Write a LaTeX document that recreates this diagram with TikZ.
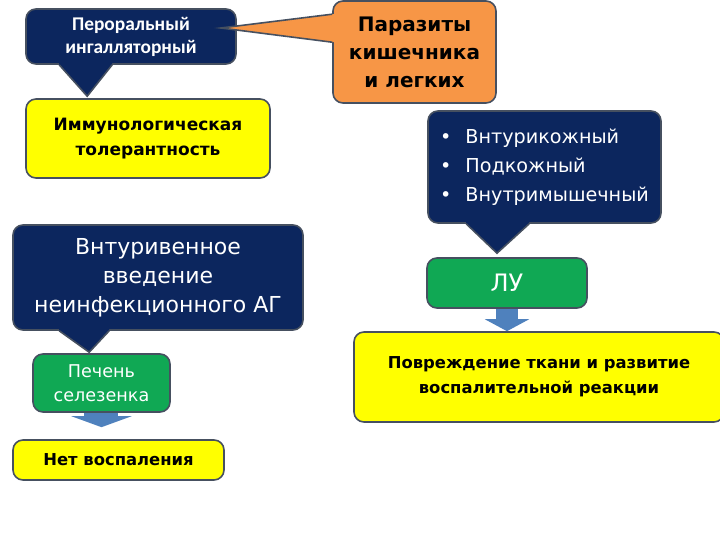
\documentclass[tikz,border=0pt]{standalone}
\usepackage{fontspec}
\setmainfont{DejaVu Sans}
\newfontfamily\calibrifont{Carlito}
\usepackage{xcolor}
\usepackage{tikz}
\usetikzlibrary{arrows.meta,calc}

\definecolor{navy}{RGB}{12,38,94}
\definecolor{rimgray}{RGB}{70,80,96}
\definecolor{boxyellow}{RGB}{255,255,0}
\definecolor{boxgreen}{RGB}{16,168,84}
\definecolor{boxorange}{RGB}{247,150,70}
\definecolor{arrowblue}{RGB}{79,129,189}

\begin{document}
\begin{tikzpicture}[x=0.5pt, y=-0.5pt,
    box/.style={rectangle, rounded corners=5pt, draw=rimgray, line width=0.8pt, align=center, inner sep=0pt},
    navybox/.style={box, fill=navy, text=white},
    yellowbox/.style={box, fill=boxyellow, text=black},
    greenbox/.style={box, fill=boxgreen, text=white},
    orangebox/.style={box, fill=boxorange, text=black},
    rim/.style={draw=rimgray, line width=0.8pt},
    bluearrow/.style={draw=arrowblue, -{Triangle[width=22pt,length=6pt]}}
]
\useasboundingbox (0,0) rectangle (720,540);

% Left column
\node[navybox, minimum width=105pt, minimum height=27.5pt, font=\calibrifont\bfseries\fontsize{9.7}{11.5}\selectfont] (oral) at (131,36.5) {Пероральный\\ингалляторный};
\node[yellowbox, minimum width=122pt, minimum height=39.5pt, font=\bfseries\fontsize{8.5}{12.5}\selectfont] (immun) at (148,138.5) {Иммунологическая\\толерантность};
\node[navybox, minimum width=145pt, minimum height=52.5pt, font=\fontsize{11}{14.5}\selectfont] (iv) at (158,277.5) {Внтуривенное\\введение\\неинфекционного АГ};
\node[greenbox, minimum width=68.5pt, minimum height=29pt, font=\fontsize{8.8}{12}\selectfont] (liver) at (101.5,383) {Печень\\селезенка};
\node[yellowbox, minimum width=105.5pt, minimum height=20pt, font=\bfseries\fontsize{8.2}{11}\selectfont] (noinfl) at (118.5,460) {Нет воспаления};

% Right column
\node[orangebox, minimum width=81.5pt, minimum height=51pt, font=\bfseries\fontsize{10}{14}\selectfont] (parasites) at (414.5,52) {Паразиты\\кишечника\\и легких};
\node[navybox, minimum width=116.5pt, minimum height=56pt, align=left, font=\fontsize{9.6}{14.5}\selectfont] (routes) at (544.5,167) {•\hspace{7pt}Внтурикожный\\•\hspace{7pt}Подкожный\\•\hspace{7pt}Внутримышечный};
\node[greenbox, minimum width=80pt, minimum height=25pt, font=\fontsize{12}{14}\selectfont] (lu) at (507,283) {ЛУ};
\node[yellowbox, minimum width=185pt, minimum height=45pt, font=\bfseries\fontsize{8.2}{12.5}\selectfont] (damage) at (539,377) {Повреждение ткани и развитие\\воспалительной реакции};

% Callout pointers
\fill[navy] ($(oral.south west)+(34,-4)$) -- ($(oral.south west)+(34,0)$) -- ($(immun.north west)+(62,-2)$) -- ($(oral.south west)+(87,0)$) -- ($(oral.south west)+(87,-4)$) -- cycle;
\draw[rim] ($(oral.south west)+(34,0)$) -- ($(immun.north west)+(62,-2)$) -- ($(oral.south west)+(87,0)$);
\fill[navy] ($(iv.south west)+(47,-4)$) -- ($(iv.south west)+(47,0)$) -- ($(liver.north west)+(57,-1)$) -- ($(iv.south west)+(97,0)$) -- ($(iv.south west)+(97,-4)$) -- cycle;
\draw[rim] ($(iv.south west)+(47,0)$) -- ($(liver.north west)+(57,-1)$) -- ($(iv.south west)+(97,0)$);
\fill[navy] ($(routes.south west)+(39,-4)$) -- ($(routes.south west)+(39,0)$) -- ($(lu.north)+(-10,-4)$) -- ($(routes.south west)+(102,0)$) -- ($(routes.south west)+(102,-4)$) -- cycle;
\draw[rim] ($(routes.south west)+(39,0)$) -- ($(lu.north)+(-10,-4)$) -- ($(routes.south west)+(102,0)$);
\fill[boxorange] ($(parasites.north west)+(4,14)$) -- ($(parasites.north west)+(0,14)$) -- ($(oral.east)+(-16,-8.5)$) -- ($(parasites.north west)+(0,42)$) -- ($(parasites.north west)+(4,42)$) -- cycle;
\draw[rim] ($(parasites.north west)+(0,14)$) -- ($(oral.east)+(-16,-8.5)$) -- ($(parasites.north west)+(0,42)$);

% Arrows
\draw[bluearrow, line width=11pt] (lu.south) -- (lu.south |- damage.north);
\draw[bluearrow, line width=17pt, -{Triangle[width=30pt,length=5.5pt]}, shorten >=6pt] (liver.south) -- (liver.south |- noinfl.north);
\end{tikzpicture}
\end{document}
